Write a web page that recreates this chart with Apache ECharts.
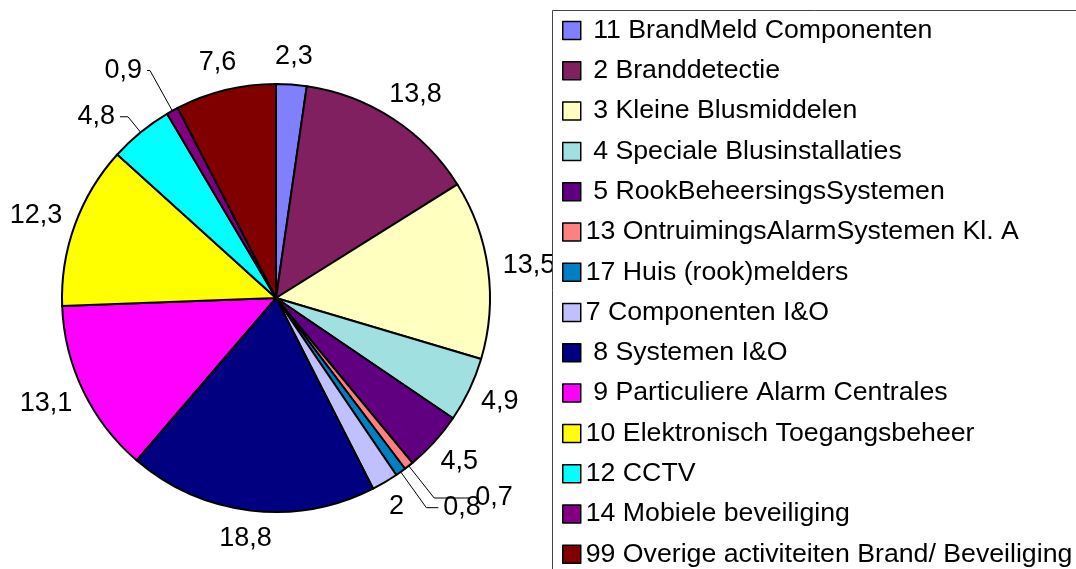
<!DOCTYPE html>
<html>
<head>
<meta charset="utf-8">
<script src="https://cdn.jsdelivr.net/npm/echarts@6/dist/echarts.min.js"></script>
<style>html,body{margin:0;padding:0;background:#fff;}#c{width:1076px;height:569px;}</style>
</head>
<body>
<div id="c"></div>
<script>
var categories = [
  ' 11 BrandMeld Componenten',
  ' 2 Branddetectie',
  ' 3 Kleine Blusmiddelen',
  ' 4 Speciale Blusinstallaties',
  ' 5 RookBeheersingsSystemen',
  '13 OntruimingsAlarmSystemen Kl. A',
  '17 Huis (rook)melders',
  '7 Componenten I&O',
  ' 8 Systemen I&O',
  ' 9 Particuliere Alarm Centrales',
  '10 Elektronisch Toegangsbeheer',
  '12 CCTV',
  '14 Mobiele beveiliging',
  '99 Overige activiteiten Brand/ Beveiliging'
];
var values = [2.3, 13.8, 13.5, 4.9, 4.5, 0.7, 0.8, 2, 18.8, 13.1, 12.3, 4.8, 0.9, 7.6];
var colors = ['#8080FF', '#802060', '#FFFFC0', '#A0E0E0', '#600080', '#FF8080', '#0080C0',
              '#C0C0FF', '#000080', '#FF00FF', '#FFFF00', '#00FFFF', '#800080', '#800000'];

// leader-line styling (length, length2) for the small slices that have a visible leader line
var leaderStyle = {
  '13 OntruimingsAlarmSystemen Kl. A': [41, 36],
  '17 Huis (rook)melders': [44, 12],
  '12 CCTV': [20, 8],
  '14 Mobiele beveiliging': [46, 3]
};

var FONT = "'Liberation Sans', Arial, sans-serif";
var CX = 276, CY = 298, R = 214, GAP = 15;

var data = values.map(function (v, i) {
  var d = { name: categories[i], value: v, itemStyle: { color: colors[i] } };
  var ls = leaderStyle[categories[i]];
  if (ls) {
    d.labelLine = { show: true, length: ls[0], length2: ls[1], lineStyle: { color: '#000', width: 1, opacity: 1 } };
  }
  return d;
});

function legendBlock(items, top) {
  return {
    z: 4,
    orient: 'vertical',
    left: 562, top: top,
    padding: 0,
    itemWidth: 18, itemHeight: 18,
    itemGap: 13.3,
    icon: 'rect',
    itemStyle: { borderColor: '#000', borderWidth: 1.5 },
    textStyle: { fontFamily: FONT, fontSize: 26.7, color: '#000' },
    data: items
  };
}

var chart = echarts.init(document.getElementById('c'), null, { renderer: 'canvas' });
chart.setOption({
  animation: false,
  backgroundColor: '#fff',
  color: colors,
  graphic: [{
    type: 'rect', z: 3,
    shape: { x: 552.5, y: 10.5, width: 600, height: 600 },
    style: { fill: '#fff', stroke: '#444', lineWidth: 1 }
  }],
  legend: [
    legendBlock(categories.slice(0, 7), 17),
    legendBlock(categories.slice(7), 299)
  ],
  series: [{
    type: 'pie',
    z: 2,
    center: [CX, CY],
    radius: R,
    startAngle: 90,
    clockwise: true,
    avoidLabelOverlap: false,
    itemStyle: { borderColor: '#000', borderWidth: 2 },
    label: {
      show: true, position: 'outside', overflow: 'none',
      fontFamily: FONT, fontSize: 27, color: '#000',
      formatter: function (p) { return String(p.value).replace('.', ','); }
    },
    labelLine: { show: true, length: 10, length2: 0, lineStyle: { opacity: 0 } },
    labelLayout: function (p) {
      var name = categories[p.dataIndex];
      if (leaderStyle[name]) return {};
      var pts = p.labelLinePoints;
      if (!pts || !pts.length) return {};
      var ex = pts[0][0] - CX, ey = pts[0][1] - CY;
      var len = Math.sqrt(ex * ex + ey * ey) || 1;
      var ux = ex / len, uy = ey / len;
      var w = p.labelRect.width, h = p.labelRect.height;
      return {
        x: CX + (R + GAP) * ux + w / 2 * ux,
        y: CY + (R + GAP) * uy + h / 2 * uy,
        align: 'center', verticalAlign: 'middle'
      };
    },
    emphasis: { disabled: true },
    data: data
  }]
});
</script>
</body>
</html>
